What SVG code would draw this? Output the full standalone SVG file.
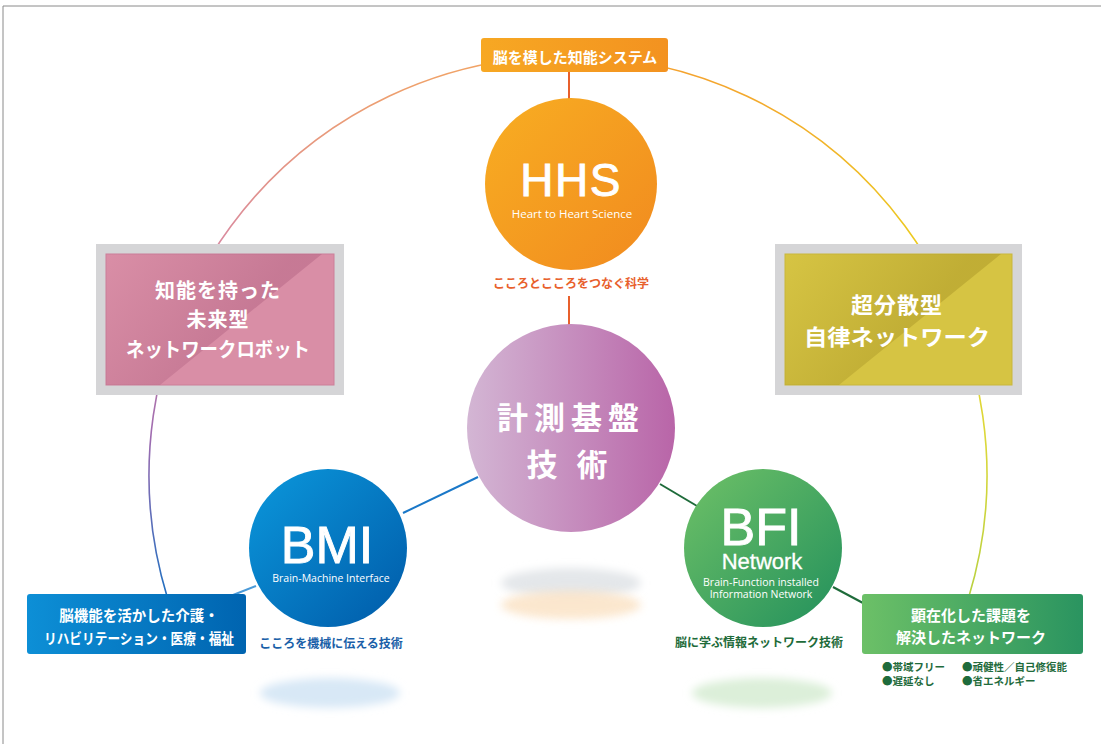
<svg xmlns="http://www.w3.org/2000/svg" width="1101" height="744" viewBox="0 0 1101 744">
<defs>
<style>
.jp{font-family:"Noto Sans CJK JP","Noto Sans",sans-serif;font-weight:bold;}
.en{font-family:"Liberation Sans",Arial,sans-serif;fill:#fff;stroke:#fff;stroke-width:0.9;}
.sm{font-family:"Open Sans","Noto Sans",sans-serif;fill:#fff;}
.w{fill:#fff;}
.frame{fill:#d5d5d7;}
</style>
<linearGradient id="gArcL" gradientUnits="userSpaceOnUse" x1="0" y1="56" x2="0" y2="598">
<stop offset="0" stop-color="#f2a463"/><stop offset="0.35" stop-color="#d98aa0"/><stop offset="0.7" stop-color="#a06cb0"/><stop offset="1" stop-color="#1e6fc0"/>
</linearGradient>
<linearGradient id="gArcR" gradientUnits="userSpaceOnUse" x1="0" y1="56" x2="0" y2="598">
<stop offset="0" stop-color="#f5a030"/><stop offset="0.35" stop-color="#eccb20"/><stop offset="0.7" stop-color="#dcd83a"/><stop offset="1" stop-color="#b8d040"/>
</linearGradient>
<linearGradient id="gOrange" x1="0" y1="0" x2="1" y2="1">
<stop offset="0" stop-color="#f8ae22"/><stop offset="1" stop-color="#f18a1f"/>
</linearGradient>
<linearGradient id="gLabel" x1="0" y1="0" x2="1" y2="0">
<stop offset="0" stop-color="#f7a823"/><stop offset="1" stop-color="#f39220"/>
</linearGradient>
<linearGradient id="gPurple" x1="0" y1="0" x2="1" y2="0">
<stop offset="0" stop-color="#d3b6d4"/><stop offset="1" stop-color="#b965a8"/>
</linearGradient>
<linearGradient id="gBlue" x1="0" y1="0" x2="1" y2="1">
<stop offset="0" stop-color="#0b98dc"/><stop offset="1" stop-color="#005aa8"/>
</linearGradient>
<linearGradient id="gBlueBox" x1="0" y1="0" x2="1" y2="0">
<stop offset="0" stop-color="#0d8fd6"/><stop offset="1" stop-color="#0064b0"/>
</linearGradient>
<linearGradient id="gGreen" x1="0" y1="0" x2="1" y2="1">
<stop offset="0" stop-color="#6fc167"/><stop offset="1" stop-color="#22905c"/>
</linearGradient>
<linearGradient id="gGreenBox" x1="0" y1="0" x2="1" y2="0">
<stop offset="0" stop-color="#6cc067"/><stop offset="1" stop-color="#2a9460"/>
</linearGradient>
<linearGradient id="gPinkShade" gradientUnits="userSpaceOnUse" x1="120" y1="240" x2="235" y2="330">
<stop offset="0" stop-color="#b06080" stop-opacity="0"/><stop offset="1" stop-color="#b06080" stop-opacity="0.45"/>
</linearGradient>
<linearGradient id="gYelShade" gradientUnits="userSpaceOnUse" x1="799" y1="240" x2="914" y2="330">
<stop offset="0" stop-color="#a08c20" stop-opacity="0"/><stop offset="1" stop-color="#a08c20" stop-opacity="0.4"/>
</linearGradient>
<filter id="blur" x="-30%" y="-100%" width="160%" height="300%"><feGaussianBlur stdDeviation="4"/></filter>
</defs>
<rect width="1101" height="744" fill="#fff"/>
<path d="M3 744 V6 H1101" fill="none" stroke="#8a8a8a" stroke-width="1"/>

<g id="connectors" fill="none">
<path d="M568 56 A419 419 0 0 0 167.5 598" stroke="url(#gArcL)" stroke-width="1.6"/>
<path d="M568 56 A419 419 0 0 1 968.5 598" stroke="url(#gArcR)" stroke-width="1.6"/>
<line x1="569" y1="72" x2="569" y2="100" stroke="#e8602c" stroke-width="2"/>
<line x1="569" y1="296" x2="569" y2="326" stroke="#e8602c" stroke-width="2"/>
<line x1="403" y1="513" x2="478" y2="477" stroke="#1a78c8" stroke-width="2"/>
<line x1="660" y1="484" x2="697" y2="506" stroke="#1e6b3a" stroke-width="2"/>
<line x1="833" y1="587" x2="863" y2="603" stroke="#1e6b3a" stroke-width="2"/>
<line x1="256" y1="586" x2="233" y2="595" stroke="#4a9ad8" stroke-width="2"/>
</g>

<g id="shadows">
<ellipse cx="571" cy="583" rx="70" ry="15" fill="#e4e7ea" filter="url(#blur)"/>
<ellipse cx="571" cy="605" rx="70" ry="14" fill="#fbe3c6" filter="url(#blur)" opacity="0.85"/>
<ellipse cx="330" cy="693" rx="70" ry="15" fill="#d8e8f6" filter="url(#blur)"/>
<ellipse cx="762" cy="693" rx="70" ry="15" fill="#dcefd9" filter="url(#blur)"/>
</g>

<g id="label-top">
<rect x="481" y="38" width="187" height="34" rx="3" fill="url(#gLabel)"/>
<text x="575" y="63" class="jp w" font-size="15" text-anchor="middle">脳を模した知能システム</text>
</g>

<g id="hhs">
<circle cx="571" cy="184" r="86" fill="url(#gOrange)"/>
<text x="571" y="196" class="en" font-size="46" text-anchor="middle" letter-spacing="1.5">HHS</text>
<text x="572" y="218" class="sm" font-size="11.5" text-anchor="middle">Heart to Heart Science</text>
<text x="571" y="288" class="jp" font-size="12" fill="#e8602c" text-anchor="middle">こころとこころをつなぐ科学</text>
</g>

<g id="center">
<circle cx="571" cy="428" r="104" fill="url(#gPurple)"/>
<text x="571" y="429" class="jp w" font-size="31" text-anchor="middle" letter-spacing="6">計測基盤</text>
<text x="570" y="476" class="jp w" font-size="31" text-anchor="middle" letter-spacing="6">技 術</text>
</g>

<g id="bmi">
<circle cx="328" cy="548" r="79" fill="url(#gBlue)"/>
<text x="327" y="563" class="en" font-size="52" text-anchor="middle">BMI</text>
<text x="331" y="582" class="sm" font-size="10.5" text-anchor="middle">Brain-Machine Interface</text>
<text x="331" y="648" class="jp" font-size="12" fill="#1a5fa8" text-anchor="middle">こころを機械に伝える技術</text>
</g>

<g id="bfi">
<circle cx="763" cy="548" r="79" fill="url(#gGreen)"/>
<text x="761" y="545" class="en" font-size="52" text-anchor="middle">BFI</text>
<text x="762" y="569" class="en" font-size="22" text-anchor="middle" style="stroke-width:0.3">Network</text>
<text x="761" y="586" class="sm" font-size="10.5" text-anchor="middle">Brain-Function installed</text>
<text x="761" y="598" class="sm" font-size="10.5" text-anchor="middle">Information Network</text>
<text x="759" y="647" class="jp" font-size="12" fill="#1e6b3a" text-anchor="middle">脳に学ぶ情報ネットワーク技術</text>
</g>

<g id="box-robot">
<rect x="96" y="244" width="248" height="151" class="frame"/>
<rect x="106" y="254" width="228" height="131" fill="#d98ea6" stroke="#cc7f99" stroke-width="1"/>
<polygon points="106,254 322,254 160,385 106,385" fill="url(#gPinkShade)"/>
<text x="218" y="298" class="jp w" font-size="20" text-anchor="middle" letter-spacing="1">知能を持った</text>
<text x="218" y="327" class="jp w" font-size="20" text-anchor="middle" letter-spacing="1">未来型</text>
<text x="218" y="357" class="jp w" font-size="20" text-anchor="middle" textLength="184" lengthAdjust="spacingAndGlyphs">ネットワークロボット</text>
</g>

<g id="box-network">
<rect x="775" y="244" width="247" height="151" class="frame"/>
<rect x="785" y="254" width="227" height="131" fill="#d6c443" stroke="#c9b73c" stroke-width="1"/>
<polygon points="785,254 1001,254 839,385 785,385" fill="url(#gYelShade)"/>
<text x="897" y="313" class="jp w" font-size="22" text-anchor="middle" letter-spacing="1">超分散型</text>
<text x="897" y="345" class="jp w" font-size="22" text-anchor="middle" textLength="186" lengthAdjust="spacingAndGlyphs">自律ネットワーク</text>
</g>

<g id="box-care">
<rect x="27" y="594" width="219" height="60" rx="3" fill="url(#gBlueBox)"/>
<text x="139" y="621" class="jp w" font-size="14.5" text-anchor="middle">脳機能を活かした介護・</text>
<text x="139" y="644" class="jp w" font-size="14.5" text-anchor="middle" textLength="190" lengthAdjust="spacingAndGlyphs">リハビリテーション・医療・福祉</text>
</g>

<g id="box-solved">
<rect x="862" y="594" width="221" height="60" rx="3" fill="url(#gGreenBox)"/>
<text x="971" y="621" class="jp w" font-size="15" text-anchor="middle">顕在化した課題を</text>
<text x="971" y="643" class="jp w" font-size="15" text-anchor="middle">解決したネットワーク</text>
<g class="jp" font-size="10.5" fill="#1f6b3c">
<text x="882" y="671">●帯域フリー</text>
<text x="882" y="685">●遅延なし</text>
<text x="962" y="671">●頑健性／自己修復能</text>
<text x="962" y="685">●省エネルギー</text>
</g>
</g>
</svg>
